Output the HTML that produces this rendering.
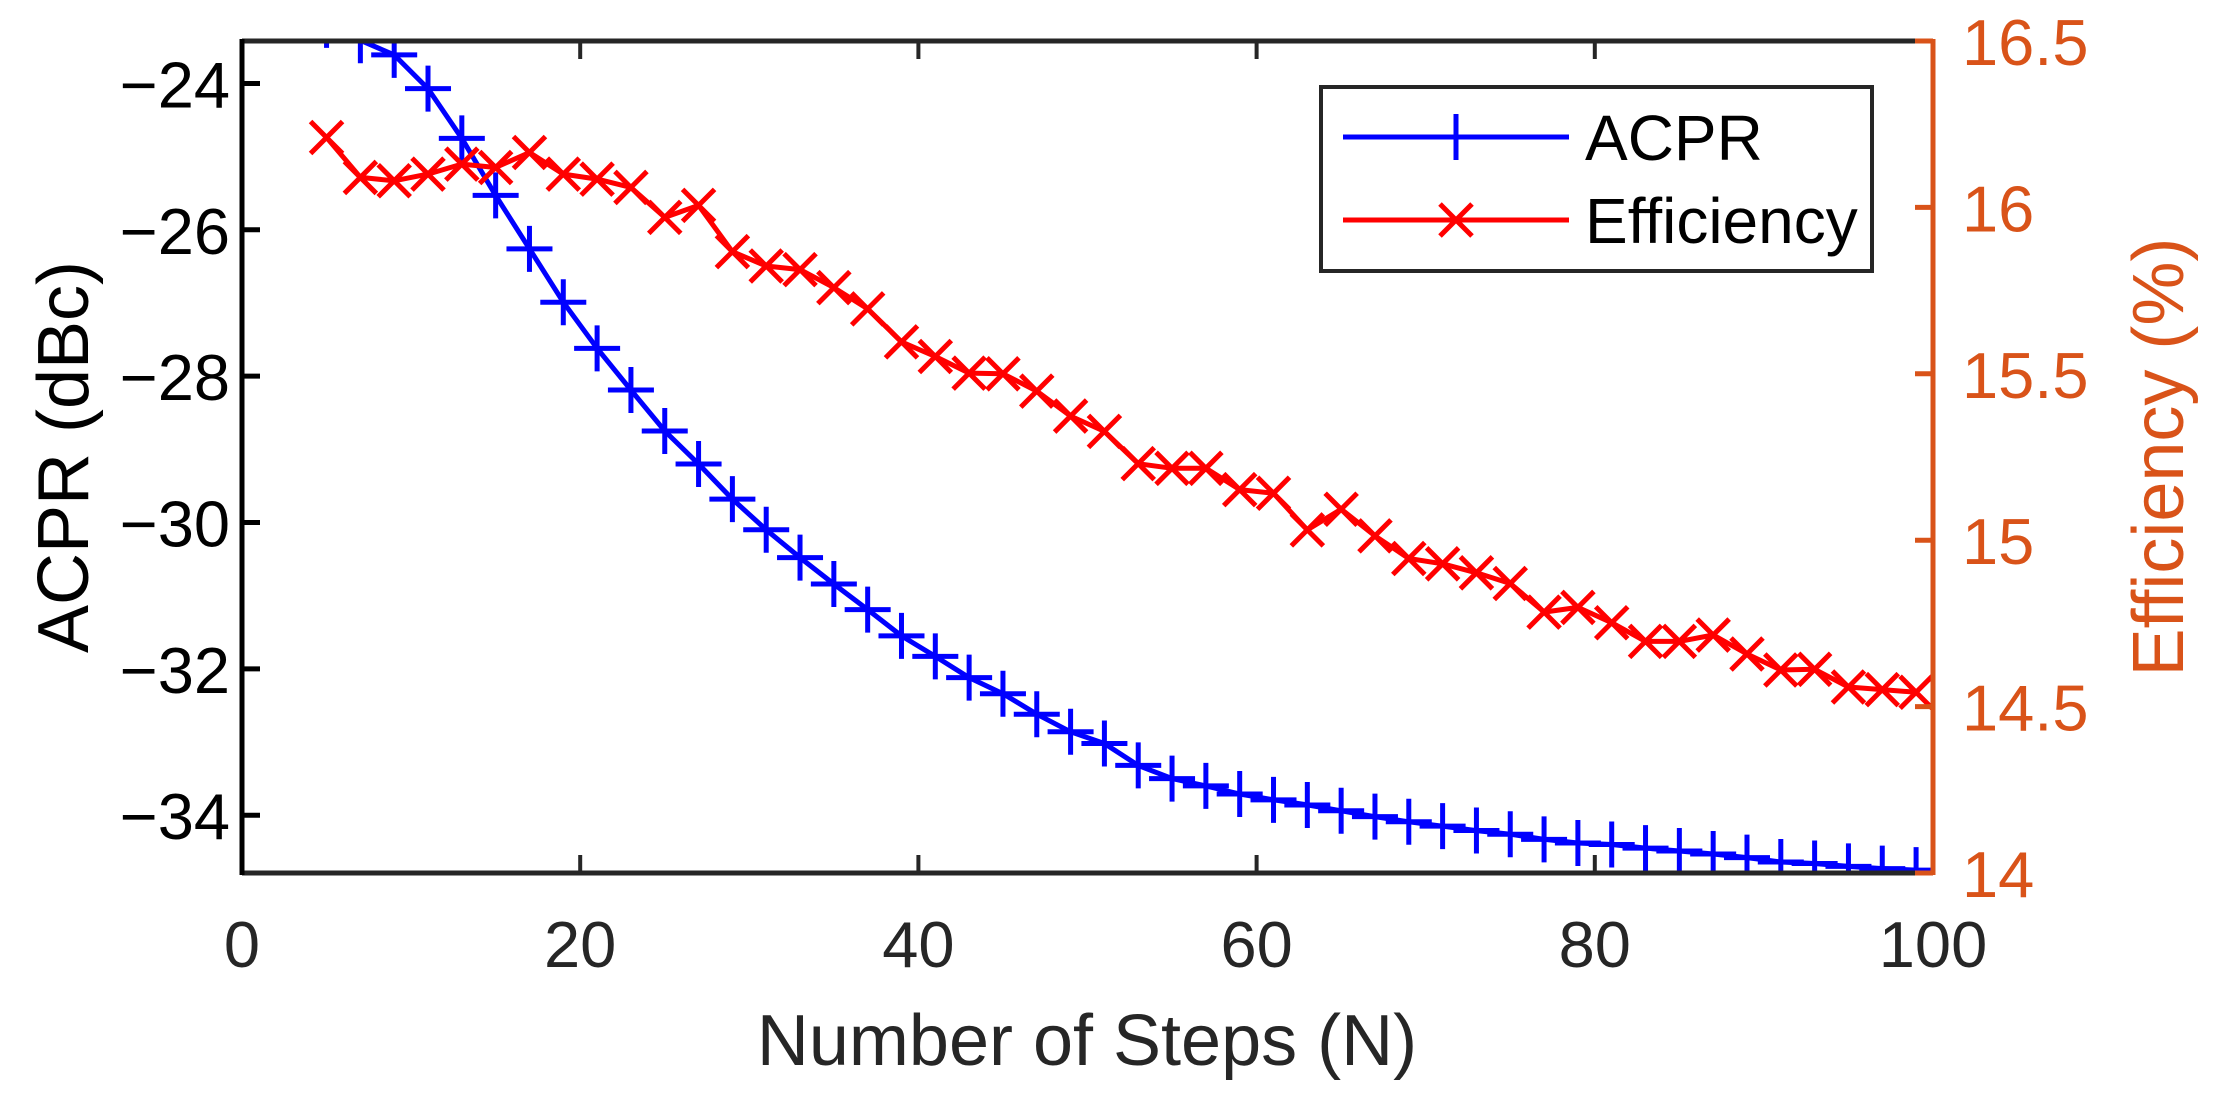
<!DOCTYPE html>
<html><head><meta charset="utf-8"><style>
html,body{margin:0;padding:0;background:#fff;}
svg{display:block;font-family:"Liberation Sans",Arial,sans-serif;}
</style></head><body>
<svg id="chart" width="2223" height="1105" viewBox="0 0 2223 1105" xmlns="http://www.w3.org/2000/svg">
<defs><clipPath id="plotclip"><rect x="242" y="41" width="1691" height="832"/></clipPath></defs>
<rect x="242" y="41" width="1691" height="832" fill="#fff"/>
<g id="marks" clip-path="url(#plotclip)"></g>
<g id="axes"></g>
<g id="legend">
<rect x="1321" y="87" width="551" height="184" fill="#fff" stroke="#262626" stroke-width="4"/>
<g>
<line x1="1343" y1="137" x2="1569" y2="137" stroke="#0000ff" stroke-width="5"/>
<line x1="1456" y1="114" x2="1456" y2="160" stroke="#0000ff" stroke-width="5"/>
<text x="1585" y="160" font-size="64" fill="#000">ACPR</text>
</g>
<g>
<line x1="1343" y1="220" x2="1569" y2="220" stroke="#ff0000" stroke-width="5"/>
<path d="M1440 204 L1472 236 M1472 204 L1440 236" stroke="#ff0000" stroke-width="5"/>
<text x="1585" y="243" font-size="64" fill="#000">Efficiency</text>
</g>
</g>
<text x="1087" y="1065" font-size="72" fill="#262626" text-anchor="middle">Number of Steps (N)</text>
<text transform="translate(88,457) rotate(-90)" font-size="72" fill="#000" text-anchor="middle">ACPR (dBc)</text>
<text transform="translate(2183,457) rotate(-90)" font-size="72" fill="#D95319" text-anchor="middle">Efficiency (%)</text>
</svg>
<script>
const steps = [5,7,9,11,13,15,17,19,21,23,25,27,29,31,33,35,37,39,41,43,45,47,49,51,53,55,57,59,61,63,65,67,69,71,73,75,77,79,81,83,85,87,89,91,93,95,97,99];
const acprValues = [-23.2,-23.41,-23.61,-24.07,-24.75,-25.53,-26.26,-26.99,-27.62,-28.19,-28.75,-29.20,-29.68,-30.10,-30.48,-30.84,-31.19,-31.55,-31.83,-32.12,-32.34,-32.62,-32.86,-33.02,-33.32,-33.50,-33.60,-33.71,-33.79,-33.86,-33.94,-34.02,-34.09,-34.15,-34.21,-34.26,-34.33,-34.38,-34.40,-34.45,-34.49,-34.53,-34.58,-34.64,-34.66,-34.70,-34.73,-34.75];
const effValues = [16.21,16.09,16.08,16.10,16.13,16.12,16.165,16.10,16.085,16.06,15.97,16.006,15.867,15.824,15.813,15.759,15.695,15.596,15.552,15.502,15.50,15.448,15.373,15.327,15.23,15.216,15.216,15.152,15.141,15.031,15.093,15.013,14.945,14.929,14.902,14.87,14.784,14.798,14.752,14.696,14.696,14.715,14.658,14.61,14.612,14.559,14.551,14.543];
const xTicks = [0,20,40,60,80,100];
const yLeftTicks = [-34,-32,-30,-28,-26,-24];
const yRightTicks = [14,14.5,15,15.5,16,16.5];
const yRightLabels = ["14","14.5","15","15.5","16","16.5"];

const NS="http://www.w3.org/2000/svg";
const X0=242,X1=1933,Y0=41,Y1=873;
const xScale = n => X0 + (n-0)/(100-0)*(X1-X0);
const yLeft = v => Y0 + (-23.42 - v)/(-23.42 - (-34.79))*(Y1-Y0);
const yRight = v => Y1 - (v-14)/(16.5-14)*(Y1-Y0);
function el(tag, attrs, parent){const e=document.createElementNS(NS,tag);for(const k in attrs)e.setAttribute(k,attrs[k]);parent.appendChild(e);return e;}
const marks=document.getElementById('marks');
const axes=document.getElementById('axes');

let d=steps.map((n,i)=>(i?'L':'M')+xScale(n).toFixed(1)+' '+yLeft(acprValues[i]).toFixed(1)).join(' ');
const la=el('path',{d:d,fill:'none',stroke:'#0000ff','stroke-width':5,'stroke-linejoin':'round'},marks);


steps.forEach((n,i)=>{const cx=xScale(n),cy=yLeft(acprValues[i]);
 const m=el('path',{d:`M${cx-23} ${cy} L${cx+23} ${cy} M${cx} ${cy-23} L${cx} ${cy+23}`,stroke:'#0000ff','stroke-width':5},marks);
 
 });
d=steps.map((n,i)=>(i?'L':'M')+xScale(n).toFixed(1)+' '+yRight(effValues[i]).toFixed(1)).join(' ');
const le=el('path',{d:d,fill:'none',stroke:'#ff0000','stroke-width':5,'stroke-linejoin':'round'},marks);


steps.forEach((n,i)=>{const cx=xScale(n),cy=yRight(effValues[i]);const r=16;
 const m=el('path',{d:`M${cx-r} ${cy-r} L${cx+r} ${cy+r} M${cx+r} ${cy-r} L${cx-r} ${cy+r}`,stroke:'#ff0000','stroke-width':5},marks);
 
 });

const topAxis=el('line',{x1:X0,y1:Y0,x2:X1,y2:Y0,stroke:'#262626','stroke-width':5},axes);


const bottomAxis=el('line',{x1:X0,y1:Y1,x2:X1,y2:Y1,stroke:'#262626','stroke-width':5},axes);


const leftAxis=el('line',{x1:X0,y1:Y0-2,x2:X0,y2:Y1+2,stroke:'#000','stroke-width':5},axes);


const rightAxis=el('line',{x1:X1,y1:Y0-2,x2:X1,y2:Y1+2,stroke:'#D95319','stroke-width':5},axes);



xTicks.forEach(t=>{const x=xScale(t);
 if(t>0&&t<100){el('line',{x1:x,y1:Y1,x2:x,y2:Y1-18,stroke:'#262626','stroke-width':4},axes);
 el('line',{x1:x,y1:Y0,x2:x,y2:Y0+18,stroke:'#262626','stroke-width':4},axes);}
 const tx=el('text',{x:x,y:967,'font-size':65,fill:'#262626','text-anchor':'middle'},axes);tx.textContent=t;
 
 });
yLeftTicks.forEach(t=>{const y=yLeft(t);
 el('line',{x1:X0,y1:y,x2:X0+18,y2:y,stroke:'#000','stroke-width':5},axes);
 const tx=el('text',{x:230,y:y+24,'font-size':65,fill:'#000','text-anchor':'end'},axes);tx.textContent='\u2212'+Math.abs(t);
 
 });
yRightTicks.forEach((t,i)=>{const y=yRight(t);
 el('line',{x1:X1,y1:y,x2:X1-18,y2:y,stroke:'#D95319','stroke-width':5},axes);
 const tx=el('text',{x:1962,y:y+24,'font-size':65,fill:'#D95319'},axes);tx.textContent=yRightLabels[i];
 
 });
</script>
</body></html>
